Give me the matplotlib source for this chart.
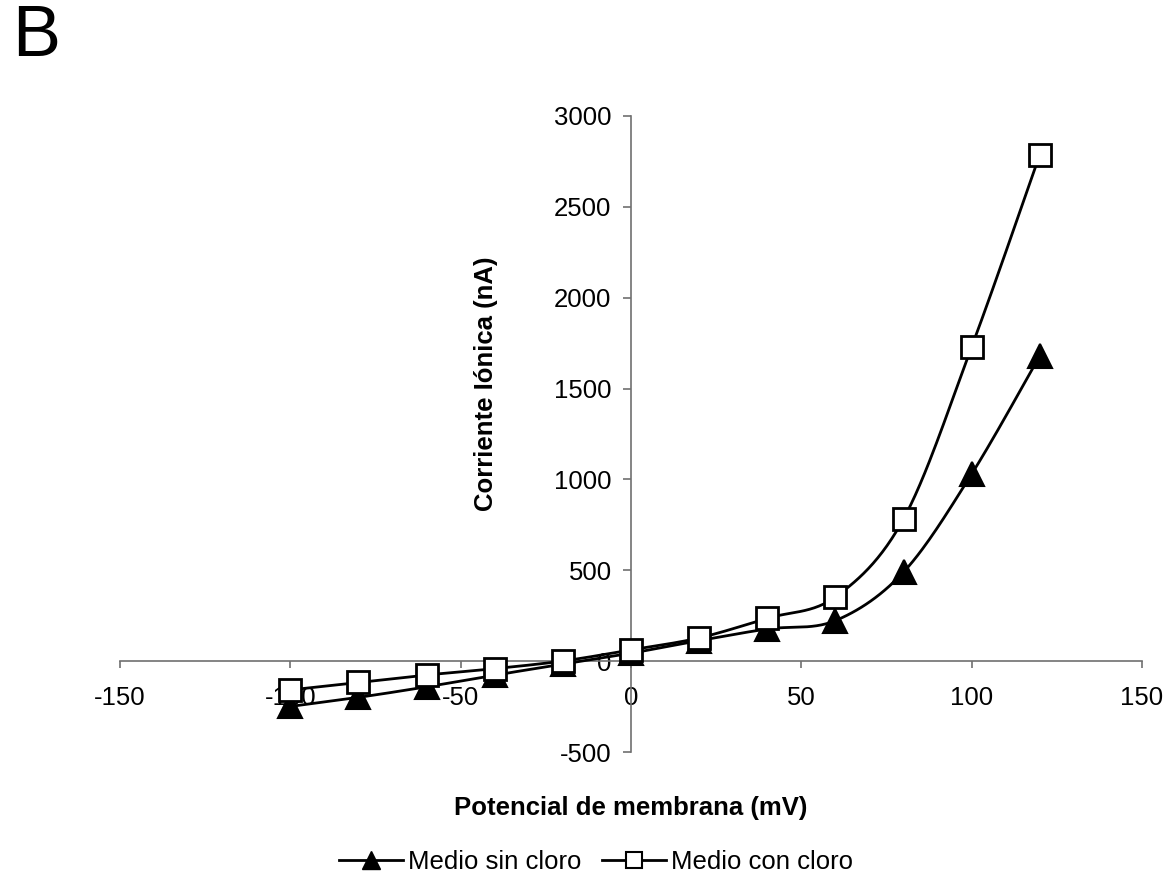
import numpy as np
import matplotlib
matplotlib.use('Agg')
import matplotlib.pyplot as plt
from matplotlib.lines import Line2D

plt.rcParams['font.family'] = ['Liberation Sans', 'DejaVu Sans']
plt.rcParams['axes.unicode_minus'] = False

potencial = [-100, -80, -60, -40, -20, 0, 20, 40, 60, 80, 100, 120]
sin_cloro = [-248, -198, -140, -76, -15, 45, 114, 178, 224, 491, 1030, 1680]
con_cloro = [-157, -116, -75, -40, 2, 63, 129, 237, 354, 783, 1729, 2786]

x_ticks = [-150, -100, -50, 0, 50, 100, 150]
y_ticks = [-500, 0, 500, 1000, 1500, 2000, 2500, 3000]


def smooth(xs, ys, n=30):
    # excel-like smoothed line (catmull-rom as cubic bezier)
    p = np.column_stack([xs, ys]).astype(float)
    p = np.vstack([p[0], p, p[-1]])
    out = []
    for i in range(1, len(p) - 2):
        p0, p1, p2, p3 = p[i - 1], p[i], p[i + 1], p[i + 2]
        c1 = p1 + (p2 - p0) / 6.0
        c2 = p2 - (p3 - p1) / 6.0
        t = np.linspace(0, 1, n)[:, None]
        seg = ((1 - t) ** 3) * p1 + 3 * ((1 - t) ** 2) * t * c1 + 3 * (1 - t) * t ** 2 * c2 + t ** 3 * p2
        out.append(seg)
    out = np.vstack(out)
    return out[:, 0], out[:, 1]


fig = plt.figure(figsize=(11.71, 8.86), dpi=100)
ax = fig.add_axes([120 / 1171, 133.7 / 886, 1022 / 1171, 636.6 / 886])

sx, sy = smooth(potencial, sin_cloro)
cx, cy = smooth(potencial, con_cloro)
ax.plot(sx, sy, color='black', lw=2, zorder=3, clip_on=False)
ax.plot(cx, cy, color='black', lw=2, zorder=3, clip_on=False)
ax.plot(potencial, sin_cloro, ls='none', marker='^', ms=17, mfc='black', mec='black', mew=1.5,
        zorder=4, clip_on=False)
ax.plot(potencial, con_cloro, ls='none', marker='s', ms=16, mfc='white', mec='black', mew=2,
        zorder=5, clip_on=False)

ax.set_xlim(-150, 150)
ax.set_ylim(-500, 3000)
ax.set_xticks(x_ticks)
ax.set_yticks(y_ticks)

ax.spines['left'].set_position(('data', 0))
ax.spines['bottom'].set_position(('data', 0))
ax.spines['top'].set_visible(False)
ax.spines['right'].set_visible(False)
for s in ['left', 'bottom']:
    ax.spines[s].set_color('#707070')
    ax.spines[s].set_linewidth(1.2)

ax.tick_params(axis='y', direction='out', length=6, width=1.2, color='#707070', pad=8, labelsize=18.5)
ax.tick_params(axis='x', direction='out', length=5, width=1.2, color='#707070', pad=13, labelsize=18.5)

ax.set_xlabel('Potencial de membrana (mV)', fontsize=18.5, fontweight='bold')
ax.xaxis.set_label_coords(0.5, -0.068)
ax.set_ylabel('Corriente Iónica (nA)', fontsize=18.5, fontweight='bold')
ax.yaxis.set_label_coords(0.37, 0.5786)

fig.text(12 / 1171, 1 - 37 / 886, 'B', fontsize=52, va='center', ha='left')

handles = [
    Line2D([], [], color='black', lw=2, marker='^', ms=13, mfc='black', mec='black'),
    Line2D([], [], color='black', lw=2, marker='s', ms=11, mfc='white', mec='black', mew=1.5),
]
fig.legend(handles, ['Medio sin cloro', 'Medio con cloro'], loc='center', ncol=2,
           bbox_to_anchor=(596 / 1171, 1 - 862 / 886), frameon=False, fontsize=18.5,
           handlelength=2.5, handletextpad=0.2, columnspacing=0.8)

fig.savefig('out.png', dpi=100)
